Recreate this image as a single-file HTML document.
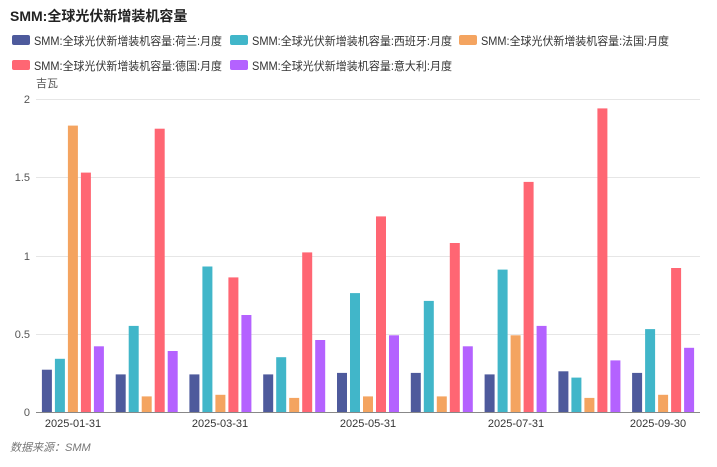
<!DOCTYPE html>
<html><head><meta charset="utf-8"><style>
html,body{margin:0;padding:0;background:#fff;}
body{width:717px;height:462px;overflow:hidden;font-family:"Liberation Sans","Noto Sans CJK SC",sans-serif;}
</style></head><body>
<svg id="s" width="717" height="462" xmlns="http://www.w3.org/2000/svg" font-family="Liberation Sans, Noto Sans CJK SC, sans-serif">
<text x="10" y="21" font-size="14" font-weight="bold" fill="#222">SMM:全球光伏新增装机容量</text>
<g font-size="11.5" fill="#333">
<rect x="12" y="35" width="18" height="10" rx="2" fill="#4e5a9c"/><text x="34" y="45" textLength="188" lengthAdjust="spacingAndGlyphs">SMM:全球光伏新增装机容量:荷兰:月度</text>
<rect x="230" y="35" width="18" height="10" rx="2" fill="#41b6c9"/><text x="252" y="45" textLength="200" lengthAdjust="spacingAndGlyphs">SMM:全球光伏新增装机容量:西班牙:月度</text>
<rect x="459" y="35" width="18" height="10" rx="2" fill="#f4a460"/><text x="481" y="45" textLength="188" lengthAdjust="spacingAndGlyphs">SMM:全球光伏新增装机容量:法国:月度</text>
<rect x="12" y="60" width="18" height="10" rx="2" fill="#ff6673"/><text x="34" y="70" textLength="188" lengthAdjust="spacingAndGlyphs">SMM:全球光伏新增装机容量:德国:月度</text>
<rect x="230" y="60" width="18" height="10" rx="2" fill="#b462ff"/><text x="252" y="70" textLength="200" lengthAdjust="spacingAndGlyphs">SMM:全球光伏新增装机容量:意大利:月度</text>
</g>
<text x="36" y="87" font-size="11" fill="#555">吉瓦</text>
<g id="grid" stroke="#e6e6e6" stroke-width="1">
<line x1="36" x2="700" y1="99.5" y2="99.5"/><line x1="36" x2="700" y1="177.5" y2="177.5"/>
<line x1="36" x2="700" y1="256.5" y2="256.5"/><line x1="36" x2="700" y1="334.5" y2="334.5"/>
</g>
<g font-size="11" fill="#555" text-anchor="end">
<text x="30" y="103">2</text><text x="30" y="181">1.5</text><text x="30" y="260">1</text><text x="30" y="338">0.5</text><text x="30" y="416">0</text>
</g>
<g id="bars"></g>
<line x1="36" x2="700" y1="412.5" y2="412.5" stroke="#888"/>
<g font-size="11" fill="#333" text-anchor="middle">
<text x="73" y="427">2025-01-31</text><text x="220" y="427">2025-03-31</text><text x="368" y="427">2025-05-31</text><text x="516" y="427">2025-07-31</text><text x="658" y="427">2025-09-30</text>
</g>
<text x="10" y="451" font-size="11" font-style="italic" fill="#777">数据来源：SMM</text>
</svg>
<script>
var d=[[0.27,0.34,1.83,1.53,0.42],[0.24,0.55,0.10,1.81,0.39],[0.24,0.93,0.11,0.86,0.62],[0.24,0.35,0.09,1.02,0.46],[0.25,0.76,0.10,1.25,0.49],[0.25,0.71,0.10,1.08,0.42],[0.24,0.91,0.49,1.47,0.55],[0.26,0.22,0.09,1.94,0.33],[0.25,0.53,0.11,0.92,0.41]];
var c=["#4e5a9c","#41b6c9","#f4a460","#ff6673","#b462ff"];
var g=document.getElementById("bars"),h="";
for(var i=0;i<9;i++){var cx=36+73.78*(i+0.5);for(var j=0;j<5;j++){var v=d[i][j]*156.5;var x=cx-31+j*13;h+='<rect x="'+x.toFixed(1)+'" y="'+(412-v).toFixed(1)+'" width="10" height="'+v.toFixed(1)+'" fill="'+c[j]+'"/>';}}
g.innerHTML=h;
</script>
</body></html>
